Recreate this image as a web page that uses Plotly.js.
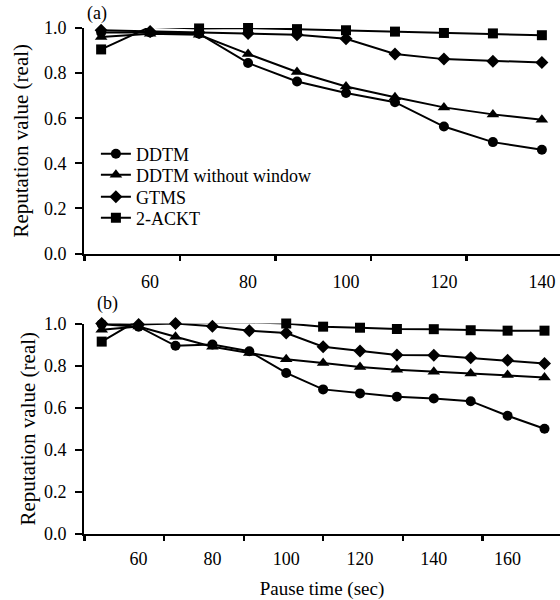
<!DOCTYPE html>
<html>
<head>
<meta charset="utf-8">
<script src="https://cdn.plot.ly/plotly-3.0.1.min.js"></script>
<style>html,body{margin:0;padding:0;background:#fff;}#chart{width:560px;height:600px;}</style>
</head>
<body>
<div id="chart"></div>
<script>
// ---- data ----
var seriesNames = ["DDTM", "DDTM without window", "GTMS", "2-ACKT"];
var pauseA = [50, 60, 70, 80, 90, 100, 110, 120, 130, 140];
var ddtmA     = [0.98, 0.98, 0.975, 0.845, 0.763, 0.712, 0.671, 0.563, 0.494, 0.46];
var ddtmNwA   = [0.96, 0.975, 0.97, 0.885, 0.805, 0.741, 0.693, 0.648, 0.617, 0.593];
var gtmsA     = [0.99, 0.985, 0.98, 0.976, 0.97, 0.952, 0.885, 0.862, 0.853, 0.847];
var ackA      = [0.905, 1.005, 0.998, 1.0, 0.995, 0.99, 0.984, 0.978, 0.976, 0.968];

var pauseB = [50, 60, 70, 80, 90, 100, 110, 120, 130, 140, 150, 160, 170];
var ddtmB   = [0.997, 0.985, 0.894, 0.90, 0.868, 0.765, 0.687, 0.668, 0.652, 0.644, 0.631, 0.562, 0.50];
var ddtmNwB = [0.97, 0.986, 0.937, 0.89, 0.86, 0.83, 0.812, 0.793, 0.78, 0.771, 0.763, 0.755, 0.744];
var gtmsB   = [1.0, 0.995, 1.0, 0.987, 0.966, 0.955, 0.89, 0.869, 0.85, 0.849, 0.837, 0.825, 0.81];
var ackB    = [0.914, 1.017, 1.005, 1.005, 1.005, 1.0, 0.985, 0.98, 0.974, 0.973, 0.968, 0.966, 0.966];

var tickLabelsA = [60, 80, 100, 120, 140];
var tickLabelsB = [60, 80, 100, 120, 140, 160];
var yTicks = [0, 0.2, 0.4, 0.6, 0.8, 1.0];

// ---- styling ----
var FONT = "Liberation Serif, Times New Roman, serif";
var symbols = ["circle", "triangle-up", "diamond", "square"];
var sizes = [10, 11, 10, 10];
var legendIds = ["legend", "legend2", "legend3", "legend4"];
var legendRowY = [0.751, 0.7095, 0.666, 0.6245];

var traces = [];
var seriesA = [ddtmA, ddtmNwA, gtmsA, ackA];
var seriesB = [ddtmB, ddtmNwB, gtmsB, ackB];
for (var i = 0; i < 4; i++) {
  traces.push({
    x: pauseA, y: seriesA[i], name: seriesNames[i], type: "scatter", mode: "lines+markers",
    xaxis: "x", yaxis: "y", cliponaxis: false, legend: legendIds[i],
    line: {color: "#000", width: 2},
    marker: {symbol: symbols[i], size: sizes[i], color: "#000"},
    showlegend: true
  });
}
for (var j = 0; j < 4; j++) {
  traces.push({
    x: pauseB, y: seriesB[j], name: seriesNames[j], type: "scatter", mode: "lines+markers",
    xaxis: "x2", yaxis: "y2", cliponaxis: false,
    line: {color: "#000", width: 2},
    marker: {symbol: symbols[j], size: sizes[j], color: "#000"},
    showlegend: false
  });
}
// empty traces to hold the tick-mark-only overlay axes
traces.push({x: [], y: [], xaxis: "x3", yaxis: "y", showlegend: false, hoverinfo: "skip"});
traces.push({x: [], y: [], xaxis: "x4", yaxis: "y2", showlegend: false, hoverinfo: "skip"});

var rangeA = [46.5, 143.7];
var rangeB = [45.2, 174.2];

function yAxis(domain, standoff) {
  return {
    domain: domain, range: [0, 1.0], tickvals: yTicks, tickformat: ".1f",
    showline: true, linecolor: "#000", linewidth: 2,
    ticks: "outside", ticklen: 7, tickwidth: 2, tickcolor: "#000",
    showgrid: false, zeroline: false, ticklabelstandoff: 5,
    tickfont: {family: FONT, size: 18, color: "#000"},
    title: {text: "Reputation value (real)", font: {family: FONT, size: 21, color: "#000"}, standoff: standoff},
    automargin: false, fixedrange: true
  };
}

function legendAt(yv) {
  return {
    x: 0.025, xanchor: "left", y: yv, yanchor: "middle",
    bgcolor: "rgba(0,0,0,0)", borderwidth: 0,
    font: {family: FONT, size: 18, color: "#000"},
    itemwidth: 30
  };
}

var layout = {
  width: 560, height: 600,
  margin: {l: 84, r: 0, t: 28, b: 66},
  paper_bgcolor: "#fff", plot_bgcolor: "#fff",
  font: {family: FONT, size: 18, color: "#000"},
  xaxis: {
    domain: [0, 1], anchor: "y", range: rangeA, tickvals: tickLabelsA,
    showline: true, linecolor: "#000", linewidth: 2, ticks: "",
    showgrid: false, zeroline: false, ticklabelstandoff: 11,
    tickfont: {family: FONT, size: 18, color: "#000"}, automargin: false
  },
  xaxis3: {
    overlaying: "x", anchor: "y", range: rangeA, side: "bottom",
    tickvals: [46.6, 66.1, 85.6, 105.1, 124.6],
    ticks: "outside", ticklen: 6, tickwidth: 2.5, tickcolor: "#000",
    showticklabels: false, showline: false, showgrid: false, zeroline: false
  },
  yaxis: yAxis([0.5543, 1], 10),
  xaxis2: {
    domain: [0, 1], anchor: "y2", range: rangeB, tickvals: tickLabelsB,
    showline: true, linecolor: "#000", linewidth: 2, ticks: "",
    showgrid: false, zeroline: false, ticklabelstandoff: 7,
    tickfont: {family: FONT, size: 18, color: "#000"},
    title: {text: "Pause time (sec)", font: {family: FONT, size: 19, color: "#000"}, standoff: 15},
    automargin: false
  },
  xaxis4: {
    overlaying: "x2", anchor: "y2", range: rangeB, side: "bottom",
    tickvals: [45.3, 66.9, 88.5, 110.0, 131.6, 153.2],
    ticks: "outside", ticklen: 6, tickwidth: 2.5, tickcolor: "#000",
    showticklabels: false, showline: false, showgrid: false, zeroline: false
  },
  yaxis2: yAxis([0, 0.416], 3),
  legend: legendAt(legendRowY[0]),
  legend2: legendAt(legendRowY[1]),
  legend3: legendAt(legendRowY[2]),
  legend4: legendAt(legendRowY[3]),
  annotations: [
    {text: "(a)", xref: "paper", yref: "paper", x: 0.027, y: 1.0296, showarrow: false,
     font: {family: FONT, size: 18, color: "#000"}, xanchor: "center", yanchor: "middle"},
    {text: "(b)", xref: "paper", yref: "paper", x: 0.050, y: 0.4565, showarrow: false,
     font: {family: FONT, size: 18, color: "#000"}, xanchor: "center", yanchor: "middle"}
  ],
  showlegend: true
};

Plotly.newPlot("chart", traces, layout, {staticPlot: true, displayModeBar: false});
</script>
</body>
</html>
